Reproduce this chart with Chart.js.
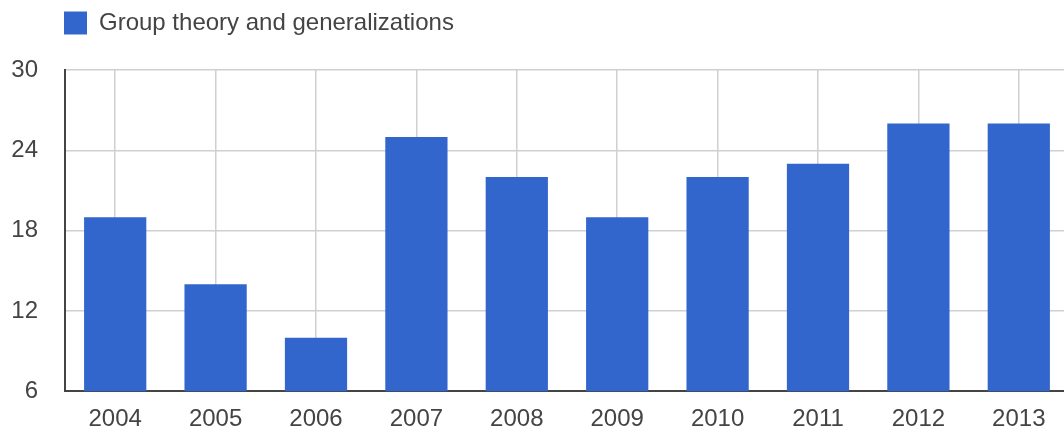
<!DOCTYPE html>
<html>
<head>
<meta charset="utf-8">
<script src="https://cdn.jsdelivr.net/npm/chart.js@4"></script>
<style>
    html, body { margin:0; padding:0; background:#fff; overflow:hidden; }
    #wrap { width:1069px; height:436px; position:relative; }
</style>
</head>
<body>
<div id="wrap"><canvas id="myChart"></canvas></div>
<script>
const years = ['2004','2005','2006','2007','2008','2009','2010','2011','2012','2013'];
const counts = [19, 14, 10, 25, 22, 19, 22, 23, 26, 26];
const seriesName = 'Group theory and generalizations';

const textColor = '#444444';
const font = { family: 'Arial, "Liberation Sans", sans-serif', size: 24 };

// legend sits over the plot's left edge, with room below it
const legendPlace = {
    id: 'legendPlace',
    beforeInit(chart) {
        const fit = chart.legend.fit;
        chart.legend.fit = function() {
            fit.bind(chart.legend)();
            this.height += 25;
        };
    },
    afterLayout(chart) {
        chart.legend.left = 54;
    }
};

const ctx = document.getElementById('myChart').getContext('2d');

new Chart(ctx, {
    type: 'bar',
    data: {
        labels: years,
        datasets: [{
            label: seriesName,
            data: counts,
            backgroundColor: '#3366cc',
            borderWidth: 0,
            barPercentage: 0.62,
            categoryPercentage: 1
        }]
    },
    options: {
        responsive: true,
        maintainAspectRatio: false,
        animation: false,
        layout: { padding: { left: 0, right: 0, top: 1, bottom: -12 } },
        plugins: {
            tooltip: { enabled: false },
            legend: {
                position: 'top',
                align: 'start',
                labels: {
                    boxWidth: 23,
                    boxHeight: 23,
                    padding: 10,
                    color: textColor,
                    font: font
                }
            }
        },
        scales: {
            x: {
                grid: { offset: false, color: '#d0d0d0', lineWidth: 1.5, drawTicks: false },
                border: { color: '#444', width: 2 },
                ticks: { color: textColor, font: font, padding: 14, maxRotation: 0 }
            },
            y: {
                min: 6,
                max: 30,
                afterFit(scale) { scale.width = 65; },
                grid: { color: '#d0d0d0', lineWidth: 1.5, drawTicks: false },
                border: { color: '#444', width: 2 },
                ticks: { stepSize: 6, color: textColor, font: font, padding: 27 }
            }
        }
    },
    plugins: [legendPlace]
});
</script>
</body>
</html>
